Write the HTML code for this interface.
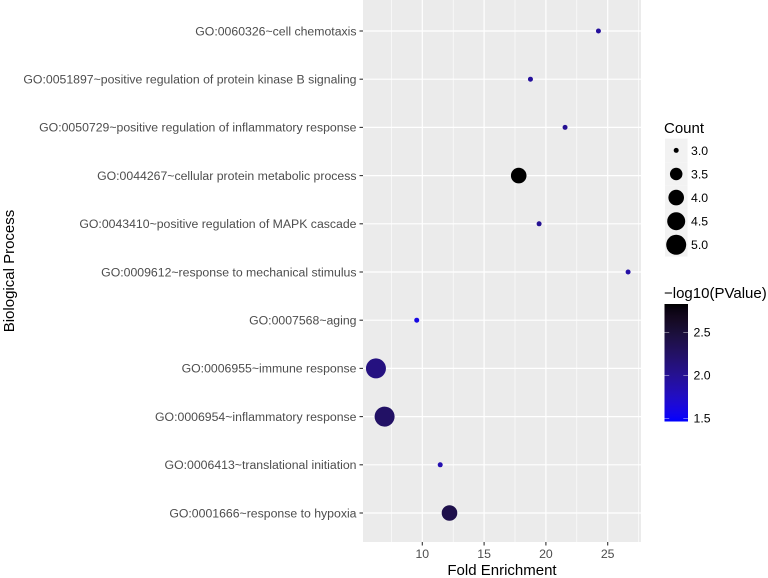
<!DOCTYPE html>
<html lang="en">
<head>
<meta charset="utf-8">
<title>Biological Process Fold Enrichment</title>
<style>
html,body{margin:0;padding:0;background:#fff;width:768px;height:578px;overflow:hidden}
svg{display:block;font-family:"Liberation Sans",Arial,sans-serif}
</style>
</head>
<body>
<svg id="chart" xmlns="http://www.w3.org/2000/svg" width="768" height="578" viewBox="0 0 768 578"></svg>
<script>
const categories = [
  "GO:0060326~cell chemotaxis",
  "GO:0051897~positive regulation of protein kinase B signaling",
  "GO:0050729~positive regulation of inflammatory response",
  "GO:0044267~cellular protein metabolic process",
  "GO:0043410~positive regulation of MAPK cascade",
  "GO:0009612~response to mechanical stimulus",
  "GO:0007568~aging",
  "GO:0006955~immune response",
  "GO:0006954~inflammatory response",
  "GO:0006413~translational initiation",
  "GO:0001666~response to hypoxia"
];
const foldEnrichment = [24.25, 18.75, 21.55, 17.8, 19.45, 26.65, 9.55, 6.25, 6.95, 11.45, 12.2];
const counts = [3, 3, 3, 4, 3, 3, 3, 5, 5, 3, 4];
const logP = [1.95, 1.95, 2.0, 2.83, 2.0, 1.9, 1.6, 2.1, 2.25, 1.85, 2.4];
const xTicks = [10, 15, 20, 25];
const xMinorTicks = [7.5, 12.5, 17.5, 22.5, 27.5];
const sizeLegend = [3.0, 3.5, 4.0, 4.5, 5.0];
const colorTicks = [1.5, 2.0, 2.5];

const svg = document.getElementById('chart');
const NS = 'http://www.w3.org/2000/svg';
const panel = {left: 363, right: 641, top: 0, bottom: 542};
const xScale = v => 422.3 + (v - 10) * 12.36;
const yScale = i => 31 + i * 48.2;
const rScale = c => 2.5 + 7.5 * Math.sqrt((c - 3) / 2);
const colorMin = 1.46, colorMax = 2.83;
const barTop = 304, barBottom = 421.5;
const barY = v => 418.3 - (v - 1.5) * 86;

function gamma(c){
  const v = c <= 0.0031308 ? 12.92 * c : 1.055 * Math.pow(c, 1 / 2.4) - 0.055;
  return Math.round(Math.max(0, Math.min(1, v)) * 255);
}
function colorScale(v){
  const t = Math.max(0, Math.min(1, (v - colorMin) / (colorMax - colorMin)));
  const L = 32.3 * (1 - t), a = 79.2 * (1 - t), b = -107.9 * (1 - t);
  const fy = (L + 16) / 116, fx = fy + a / 500, fz = fy - b / 200;
  const inv = f => f > 6 / 29 ? f * f * f : 3 * (6 / 29) * (6 / 29) * (f - 4 / 29);
  const X = 0.95047 * inv(fx), Y = inv(fy), Z = 1.08883 * inv(fz);
  const r = 3.2406 * X - 1.5372 * Y - 0.4986 * Z;
  const g = -0.9689 * X + 1.8758 * Y + 0.0415 * Z;
  const bl = 0.0557 * X - 0.2040 * Y + 1.0570 * Z;
  return 'rgb(' + gamma(r) + ',' + gamma(g) + ',' + gamma(bl) + ')';
}
function make(tag, attrs, text){
  const el = document.createElementNS(NS, tag);
  for (const k in attrs) el.setAttribute(k, attrs[k]);
  if (text !== undefined) el.textContent = text;
  svg.appendChild(el);
  return el;
}

let el = make('rect', {x: panel.left, y: panel.top, width: panel.right - panel.left, height: panel.bottom - panel.top, fill: '#ebebeb'});



xMinorTicks.forEach(v => {
  const e = make('line', {x1: xScale(v), x2: xScale(v), y1: panel.top, y2: panel.bottom, stroke: '#fff', 'stroke-width': 0.6});
  
  
});
xTicks.forEach(v => {
  const e = make('line', {x1: xScale(v), x2: xScale(v), y1: panel.top, y2: panel.bottom, stroke: '#fff', 'stroke-width': 1.2});
  
  
});
categories.forEach((c, i) => {
  const y = yScale(i);
  const g = make('line', {x1: panel.left, x2: panel.right, y1: y, y2: y, stroke: '#fff', 'stroke-width': 1.2});
  
  
  const t = make('line', {x1: panel.left - 3.5, x2: panel.left, y1: y, y2: y, stroke: '#333', 'stroke-width': 1.1});
  
  
  const l = make('text', {x: 356.5, y: y + 4.3, 'text-anchor': 'end', 'font-size': 12.28, fill: '#4d4d4d'}, c);
  
  
});
xTicks.forEach(v => {
  const t = make('line', {x1: xScale(v), x2: xScale(v), y1: panel.bottom, y2: panel.bottom + 3.5, stroke: '#333', 'stroke-width': 1.1});
  
  
  const l = make('text', {x: xScale(v), y: 558, 'text-anchor': 'middle', 'font-size': 12.28, fill: '#4d4d4d'}, String(v));
  
  
});
categories.forEach((c, i) => {
  const p = make('circle', {cx: xScale(foldEnrichment[i]), cy: yScale(i), r: rScale(counts[i]), fill: colorScale(logP[i])});
  
  
});

el = make('text', {x: 502, y: 575, 'text-anchor': 'middle', 'font-size': 15, fill: '#000'}, 'Fold Enrichment');


el = make('text', {x: 14, y: 271, 'text-anchor': 'middle', 'font-size': 15, fill: '#000', transform: 'rotate(-90 14 271)'}, 'Biological Process');



el = make('text', {x: 664, y: 133, 'font-size': 15, fill: '#000'}, 'Count');


sizeLegend.forEach((c, i) => {
  const cy = 150.4 + i * 23.6;
  const k = make('rect', {x: 665, y: cy - 11.8, width: 22.5, height: 23.6, fill: '#f2f2f2'});
  
  
  const d = make('circle', {cx: 676.2, cy: cy, r: rScale(c), fill: '#000'});
  
  
  const l = make('text', {x: 691, y: cy + 4.4, 'font-size': 12.28, fill: '#000'}, c.toFixed(1));
  
  
});

el = make('text', {x: 664, y: 298, 'font-size': 15, fill: '#000'}, '\u2212log10(PValue)');


const defs = document.createElementNS(NS, 'defs');
const grad = document.createElementNS(NS, 'linearGradient');
grad.setAttribute('id', 'colorbar-gradient');
grad.setAttribute('x1', '0'); grad.setAttribute('y1', '1');
grad.setAttribute('x2', '0'); grad.setAttribute('y2', '0');
for (let i = 0; i <= 20; i++) {
  const s = document.createElementNS(NS, 'stop');
  s.setAttribute('offset', (i / 20).toFixed(3));
  s.setAttribute('stop-color', colorScale(colorMin + (colorMax - colorMin) * i / 20));
  grad.appendChild(s);
}
defs.appendChild(grad);
svg.appendChild(defs);
el = make('rect', {x: 664.5, y: barTop, width: 23.5, height: barBottom - barTop, fill: 'url(#colorbar-gradient)'});


colorTicks.forEach(v => {
  const y = barY(v);
  const a = make('line', {x1: 664.5, x2: 669.2, y1: y, y2: y, stroke: '#fff', 'stroke-width': 0.6, 'stroke-opacity': 0.7});
  
  
  const b = make('line', {x1: 683.3, x2: 688, y1: y, y2: y, stroke: '#fff', 'stroke-width': 0.6, 'stroke-opacity': 0.7});
  
  
  const l = make('text', {x: 693.5, y: y + 4.4, 'font-size': 12.28, fill: '#000'}, v.toFixed(1));
  
  
});
</script>
</body>
</html>
